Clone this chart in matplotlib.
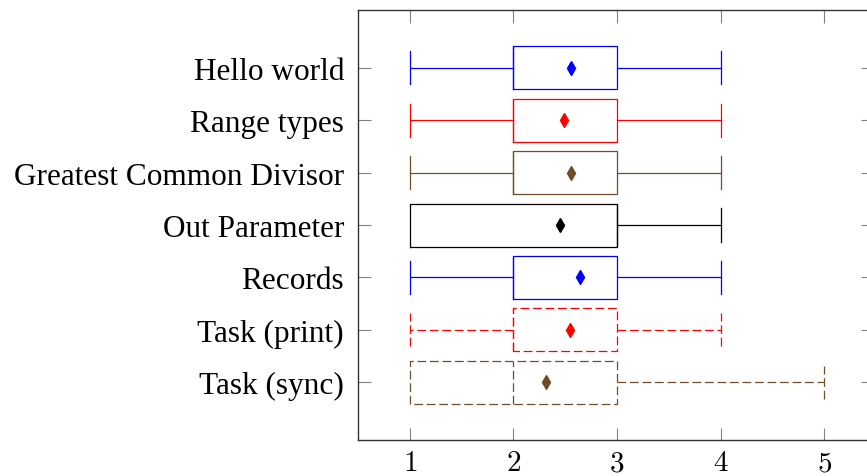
import matplotlib
matplotlib.use("Agg")
import matplotlib.pyplot as plt

# boxplot data, top to bottom as drawn
labels = ["Hello world", "Range types", "Greatest Common Divisor",
          "Out Parameter", "Records", "Task (print)", "Task (sync)"]
whislo = [1, 1, 1, 1, 1, 1, 1]
q1 = [2, 2, 2, 1, 2, 2, 1]
med = [2, 2, 2, 3, 2, 2, 2]
q3 = [3, 3, 3, 3, 3, 3, 3]
whishi = [4, 4, 4, 4, 4, 4, 5]
means = [2.56, 2.49, 2.56, 2.45, 2.645, 2.55, 2.31]

colors = ["#0000ff", "#ff0000", "#704c28", "#000000", "#0000ff", "#ff0000", "#704c28"]
styles = ["-", "-", "-", "-", "-", "--", "--"]

plt.rcParams["mathtext.fontset"] = "cm"

fig = plt.figure(figsize=(8.67, 4.77), dpi=100)
# right spine sits just past the picture edge in the reference
ax = fig.add_axes([358 / 867, 36 / 477, 515 / 867, 430 / 477])

n = len(labels)
for i in range(n):
    pos = n - i
    st = [dict(whislo=whislo[i], q1=q1[i], med=med[i], q3=q3[i],
               whishi=whishi[i], mean=means[i], fliers=[])]
    lp = dict(color=colors[i], linestyle=styles[i], linewidth=0.9)
    if styles[i] == "--":
        lp["dashes"] = (7, 3)
    bp = ax.bxp(st, positions=[pos], widths=0.82, capwidths=0.63, vert=False,
                showmeans=True, showfliers=False,
                boxprops=lp, whiskerprops=lp, capprops=lp, medianprops=lp,
                meanprops=dict(marker="d", markerfacecolor=colors[i],
                               markeredgecolor=colors[i], markersize=7))
    # cap hidden behind the box edge when the lower whisker is empty
    if whislo[i] == q1[i]:
        bp["caps"][0].set_visible(False)

ax.set_xlim(0.5, 5.47)
ax.set_ylim(-0.1, 8.1)
ax.set_xticks([1, 2, 3, 4, 5])
ax.set_xticklabels([f"${v}$" for v in [1, 2, 3, 4, 5]], fontsize=21)
ax.set_yticks(range(n, 0, -1))
ax.set_yticklabels(labels, fontsize=22.5, family="Liberation Serif")
ax.tick_params(direction="in", length=9, width=0.8, color="#808080",
               top=True, right=True)
ax.tick_params(axis="y", pad=10)
ax.tick_params(axis="x", pad=6)
for s in ax.spines.values():
    s.set_linewidth(1.0)
    s.set_color("#333333")

fig.savefig("out.png", dpi=100)
